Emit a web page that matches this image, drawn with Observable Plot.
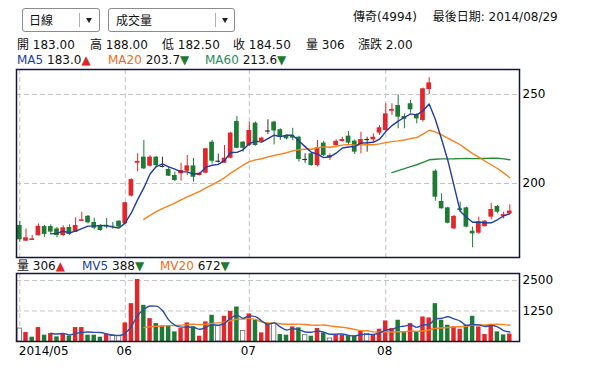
<!DOCTYPE html>
<html><head><meta charset="utf-8">
<script src="https://cdn.jsdelivr.net/npm/d3@7"></script>
<script src="https://cdn.jsdelivr.net/npm/@observablehq/plot@0.6"></script>
<style>
body{margin:0;background:#fff;}
#wrap{position:relative;width:600px;height:373px;overflow:hidden;font-family:"DejaVu Sans","Noto Sans CJK TC",sans-serif;font-size:12px;color:#111;background:#fff;}
.abs{position:absolute;white-space:nowrap;line-height:14px;}
.box{position:absolute;border:1px solid #8c8c8c;border-radius:3px;height:24px;box-sizing:border-box;background:#fff;}
.box .lbl{position:absolute;top:4px;font-family:"Noto Sans CJK TC",sans-serif;font-size:12px;line-height:14px;color:#111;}
.box .sep{position:absolute;top:4px;width:1px;height:14px;background:#b0b0b0;}
.box .arr{position:absolute;top:9px;width:0;height:0;border-left:3px solid transparent;border-right:3px solid transparent;border-top:5px solid #222;}
.blue{color:#1b3f9e}.orange{color:#f26b1d}.green{color:#2b8a5a}
.up{color:#e02424}.dn{color:#1d7a30}
svg{position:absolute;left:0;}
</style></head>
<body><div id="wrap">
<div class="box" style="left:22px;top:8px;width:78px;"><span class="lbl" style="left:6px;">日線</span><span class="sep" style="left:56px;"></span><span class="arr" style="left:63px;"></span></div>
<div class="box" style="left:108px;top:8px;width:127px;"><span class="lbl" style="left:7px;">成交量</span><span class="sep" style="left:106px;"></span><span class="arr" style="left:113px;"></span></div>
<div class="abs" id="title" style="left:353px;top:10px;"></div>
<div id="quote"></div>
<div id="ma"></div>
<div id="mv"></div>
<div id="pricePlot"></div>
<div id="volPlot"></div>
</div>
<script>
// ---- data ----
const stockName = "傳奇(4994)";
const lastDate = "2014/08/29";
const opens  = [176.4,167.6,168.0,170.6,175.8,175.8,174.5,170.8,175.3,172.5,178.7,181.6,178.1,176.4,176.5,176.0,178.8,177.4,192.9,211.4,214.8,209.7,214.8,209.6,207.9,204.5,205.4,206.9,209.9,204.5,205.8,223.2,212.5,211.4,214.2,234.8,223.2,221.3,233.9,223.6,229.5,234.5,230.2,226.6,226.5,226.0,213.5,216.7,210.1,222.7,214.4,221.3,223.6,226.6,223.8,221.9,224.7,224.5,228.3,229.8,240.6,243.8,237.6,244.8,238.8,235.4,252.8,206.9,189.9,186.3,174.5,185.8,186.3,173.2,172.1,175.8,181.1,187.1,181.5,183.0];
const highs  = [178.8,174.5,170.8,177.3,176.4,176.8,175.3,176.2,176.8,180.7,183.9,182.0,180.5,176.8,180.3,178.1,179.2,189.5,202.5,216.7,224.2,215.7,215.2,214.8,209.2,206.4,211.4,215.7,214.2,206.0,219.8,224.2,216.5,221.3,228.8,237.6,223.6,234.5,234.5,226.0,235.8,235.0,230.7,227.3,231.0,226.6,216.7,217.2,224.2,223.6,216.7,224.5,226.0,229.2,224.5,228.8,226.0,227.9,232.6,244.8,244.8,249.8,239.1,246.6,239.1,253.6,259.4,207.7,194.2,186.7,182.0,189.5,186.7,175.5,181.1,179.2,188.9,187.6,183.9,188.0];
const lows   = [167.0,167.4,168.0,170.6,169.8,171.4,169.5,170.2,170.8,172.5,178.7,177.3,174.0,173.2,174.5,174.3,175.3,177.0,192.5,206.5,207.9,209.2,208.8,208.8,203.9,201.1,201.3,204.5,200.7,204.2,205.4,211.0,211.5,211.4,213.9,219.5,217.6,220.8,221.0,223.2,227.5,221.7,224.2,224.5,224.0,212.0,211.4,209.7,209.2,215.2,212.9,220.4,223.2,221.9,216.3,216.7,217.6,223.2,227.0,229.4,238.2,230.7,230.7,239.5,233.5,234.5,250.0,190.1,185.6,177.3,174.1,183.9,175.1,163.9,171.3,175.5,179.6,183.0,180.1,182.5];
const closes = [168.4,169.5,168.9,176.0,171.4,172.7,170.8,175.1,171.4,176.4,179.6,177.9,174.9,173.6,175.5,175.5,175.5,189.2,202.2,212.4,208.2,214.8,210.0,209.6,204.1,201.7,207.3,209.9,203.5,205.8,219.5,212.5,212.5,214.2,228.3,219.8,219.8,229.8,221.3,225.5,229.5,229.5,226.0,225.1,225.5,213.5,213.5,210.1,220.0,215.7,215.7,223.7,224.7,222.7,217.6,224.7,224.7,226.0,231.3,239.1,241.6,237.3,236.1,241.4,236.3,253.2,256.5,192.3,185.8,177.7,181.5,184.8,175.5,171.7,178.3,178.8,185.4,183.9,182.5,184.5];
const volumes = [530,367,177,571,258,326,190,326,217,571,571,258,258,177,299,258,231,761,1549,2541,1481,938,734,639,639,394,530,761,598,217,802,1074,625,1033,1237,1413,435,1128,870,353,734,734,285,258,598,560,258,217,530,353,122,285,258,231,231,435,313,258,503,843,530,870,394,734,367,1006,965,1549,870,666,598,503,666,1033,598,285,700,394,270,306];
const monthTickIndex = [0, 17, 37, 59];
const monthLabels = ["2014/05", "06", "07", "08"];
const priceTicks = [200, 250];
const volumeTicks = [1250, 2500];
const quote = {開:"183.00", 高:"188.00", 低:"182.50", 收:"184.50", 量:"306", 漲跌:"2.00"};
const maLabels = [["MA5","183.0","up"],["MA20","203.7","dn"],["MA60","213.6","dn"]];
const mvLabels = [["量","306","up"],["MV5","388","dn"],["MV20","672","dn"]];

// ---- header text ----
document.getElementById("title").textContent = stockName + "\u2003 最後日期: " + lastDate;
const quoteX = [17, 90, 162, 233, 306, 358];
const qDiv = document.getElementById("quote");
Object.entries(quote).forEach(([k, v], j) => {
  const s = document.createElement("div"); s.className = "abs";
  s.style.left = quoteX[j] + "px"; s.style.top = "38px";
  s.textContent = k + " " + v; qDiv.appendChild(s);
});
function labelRow(el, items, xs, top, classes) {
  items.forEach(([name, val, dir], j) => {
    const s = document.createElement("div"); s.className = "abs";
    s.style.left = xs[j] + "px"; s.style.top = top + "px";
    s.innerHTML = `<span class="${classes[j]}">${name}</span> ${val}<span class="${dir}">${dir === "up" ? "▲" : "▼"}</span>`;
    el.appendChild(s);
  });
}
labelRow(document.getElementById("ma"), maLabels, [17, 108, 205], 53, ["blue", "orange", "green"]);
labelRow(document.getElementById("mv"), mvLabels, [17, 82, 160], 259, ["", "blue", "orange"]);

// ---- chart ----
const UP = "#e3262b", DOWN = "#1f7a35", FLAT = "#333333";
const rows = opens.map((o, i) => ({
  i, o, h: highs[i], l: lows[i], c: closes[i], v: volumes[i],
  col: closes[i] > o ? UP : closes[i] < o ? DOWN : FLAT,
  vdir: i === 0 ? "flat" : closes[i] > closes[i - 1] ? "up" : closes[i] < closes[i - 1] ? "down" : "flat"
}));
const xDomain = [-0.53, 80.56];
const halfW = 0.38;
const grid = {stroke: "#c4c4c4", strokeOpacity: 1, strokeDasharray: "5,3"};
const frameStyle = {stroke: "#15163a", strokeWidth: 1.5};
const font = {fontFamily: "DejaVu Sans, sans-serif", fontSize: "12px", color: "#000", background: "transparent", overflow: "visible"};
const maLine = (k, field, color, extra = {}) =>
  Plot.lineY(rows, Plot.windowY({k, anchor: "end"}, {x: d => d.i >= k ? d.i : NaN, y: field, stroke: color, strokeWidth: 1.4, ...extra}));

const price = Plot.plot({
  width: 600, height: 192, marginLeft: 16, marginRight: 81, marginTop: 2, marginBottom: 2,
  x: {domain: xDomain, axis: null},
  y: {domain: [158.43, 264.04], axis: null},
  color: {type: "identity"},
  style: font,
  marks: [
    Plot.gridX(monthTickIndex, grid),
    Plot.gridY(priceTicks, grid),
    Plot.ruleX(rows, {x: "i", y1: "l", y2: "h", stroke: "col", strokeWidth: 1}),
    Plot.rect(rows.filter(d => d.o !== d.c), {x1: d => d.i - halfW, x2: d => d.i + halfW, y1: "o", y2: "c", fill: "col"}),
    Plot.ruleY(rows.filter(d => d.o === d.c), {x1: d => d.i - halfW, x2: d => d.i + halfW, y: "o", stroke: "col", strokeWidth: 1.2}),
    maLine(60, "c", "#2a8a3c"),
    maLine(20, "c", "#f5821f"),
    maLine(5, "c", "#1f3d9c"),
    Plot.axisY(priceTicks, {anchor: "right", tickSize: 0, tickPadding: 3, fill: "#000", label: null, tickFormat: d => String(d)}),
    Plot.frame(frameStyle)
  ]
});
price.style.top = "67px";
document.getElementById("pricePlot").appendChild(price);

const vfill = {up: UP, down: DOWN, flat: "#ffffff"};
const vol = Plot.plot({
  width: 600, height: 90, marginLeft: 16, marginRight: 81, marginTop: 2, marginBottom: 20,
  x: {domain: xDomain, axis: null},
  y: {domain: [0, 2785], axis: null},
  color: {type: "identity"},
  style: font,
  marks: [
    Plot.gridX(monthTickIndex, grid),
    Plot.gridY(volumeTicks, grid),
    Plot.rect(rows, {x1: d => d.i - 0.36, x2: d => d.i + 0.36, y1: 0, y2: "v",
      fill: d => vfill[d.vdir], stroke: d => d.vdir === "flat" ? "#666" : "none", strokeWidth: 0.8}),
    maLine(20, "v", "#f5821f", {curve: "monotone-x"}),
    maLine(5, "v", "#2a4fa8", {curve: "monotone-x"}),
    Plot.axisY(volumeTicks, {anchor: "right", tickSize: 0, tickPadding: 3, fill: "#000", label: null, tickFormat: d => String(d)}),
    Plot.axisX([monthTickIndex[0]], {tickSize: 0, tickPadding: 5, textAnchor: "start", dx: -1, label: null, tickFormat: () => monthLabels[0], fill: "#000"}),
    Plot.axisX(monthTickIndex.slice(1), {tickSize: 0, tickPadding: 5, dx: -1, label: null, tickFormat: d => monthLabels[monthTickIndex.indexOf(d)], fill: "#000"}),
    Plot.frame(frameStyle)
  ]
});
vol.style.top = "271px";
document.getElementById("volPlot").appendChild(vol);
</script>
</body></html>
